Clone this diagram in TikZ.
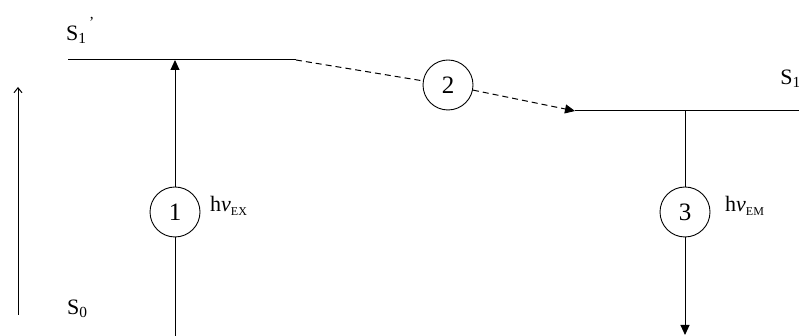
\documentclass[tikz,border=0pt]{standalone}
\usepackage{fontspec}
\setmainfont{Liberation Serif}
\usetikzlibrary{arrows.meta}
\begin{document}
\begin{tikzpicture}[x=1pt,y=1pt,
  lvl/.style={line width=1pt},
  num/.style={circle,draw,line width=0.9pt,minimum size=50pt,inner sep=0pt,font=\fontsize{25}{25}\selectfont},
  lab/.style={font=\fontsize{22}{22}\selectfont,inner sep=0pt},
  tip/.style={-{Triangle[length=10pt,width=9pt]}},
  trans/.style={line width=1pt}]
\useasboundingbox (0,0) rectangle (799,336);
% levels
\coordinate (s1pL) at (68,276);
\coordinate (s1pR) at (296,276);
\coordinate (s1L) at (575,225);
\coordinate (s1R) at (799,225);
\draw[lvl] (s1pL) -- (s1pR);
\draw[lvl] (s1L) -- (s1R);
% labels
\node[lab,anchor=west] (lS1p) at (66,306) {S\textsubscript{1}\raisebox{0.55ex}{\textsuperscript{\,’}}};
\node[lab,anchor=east] (lS1) at (801,257) {S\textsubscript{1}};
\node[lab,anchor=west] (lS0) at (67,27) {S\textsubscript{0}};
% circles
\node[num] (c1) at (175,124) {1};
\node[num] (c2) at (448,251) {2};
\node[num] (c3) at (685,124) {3};
% transition 1
\coordinate (b1) at (175,-2);
\coordinate (t1) at (175,276);
\draw[trans] (b1) -- (c1);
\draw[trans,tip] (c1) -- (t1);
% transition 2
\draw[trans,dash pattern=on 6pt off 4pt] (s1pR) -- (c2);
\draw[trans,dash pattern=on 6pt off 4pt,tip] (c2) -- (s1L);
% transition 3
\coordinate (t3) at (685,225);
\coordinate (b3) at (685,1);
\draw[trans] (t3) -- (c3);
\draw[trans,tip] (c3) -- (b3);
% energy axis
\coordinate (e0) at (18,21);
\coordinate (e1) at (18,249);
\draw[line width=1pt,-{Straight Barb[length=5pt,width=8pt]}] (e0) -- (e1);
% photon labels
\node[lab,anchor=west] (hex) at (210,130) {h{\itshape ν}\raisebox{-0.35ex}{\fontsize{12}{12}\selectfont EX}};
\node[lab,anchor=west] (hem) at (725,130) {h{\itshape ν}\raisebox{-0.35ex}{\fontsize{12}{12}\selectfont EM}};
\end{tikzpicture}
\end{document}
